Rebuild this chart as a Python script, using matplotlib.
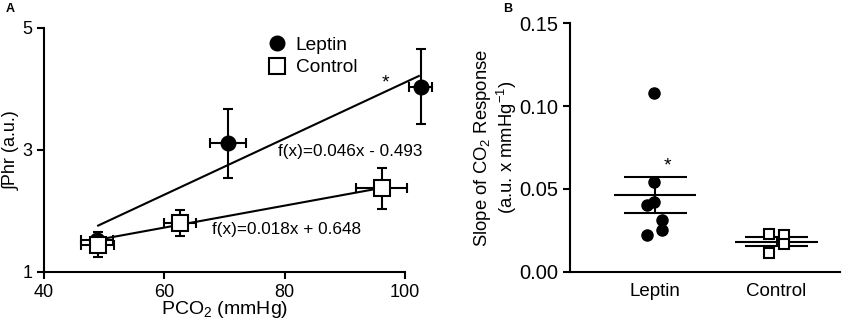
import numpy as np
import matplotlib
matplotlib.use('Agg')
import matplotlib.pyplot as plt

plt.rcParams['font.family'] = ['Liberation Sans', 'DejaVu Sans']
plt.rcParams['mathtext.fontset'] = 'custom'
plt.rcParams['mathtext.rm'] = 'Liberation Sans'
plt.rcParams['mathtext.default'] = 'regular'

# panel A: phrenic response vs PCO2 (mean +/- SEM)
lep_pco2 = [48.8, 70.6, 102.6]
lep_pco2_err = [2.7, 3.0, 1.9]
lep_phr = [1.52, 3.11, 4.04]
lep_phr_err = [0.0, 0.57, 0.62]

con_pco2 = [48.9, 62.6, 96.1]
con_pco2_err = [2.7, 2.7, 4.3]
con_phr = [1.45, 1.80, 2.37]
con_phr_err = [0.2, 0.21, 0.33]

lep_fit = (0.046, -0.493)
con_fit = (0.018, 0.648)
lep_fit_range = [49.0, 102.3]
con_fit_range = [48.9, 96.0]

# panel B: individual slopes
lep_slopes = [0.108, 0.0542, 0.0422, 0.0406, 0.0316, 0.0255, 0.0225]
con_slopes = [0.0227, 0.0221, 0.0167, 0.0117]
lep_jitter = [-0.01, -0.01, -0.01, -0.07, 0.06, 0.06, -0.07]
con_jitter = [-0.06, 0.06, 0.06, -0.06]
groups = ['Leptin', 'Control']

fig = plt.figure(figsize=(8.43, 3.24), dpi=100)
axA = fig.add_axes([0.0522, 0.1605, 0.4282, 0.7531])
axB = fig.add_axes([0.6762, 0.1605, 0.320, 0.7685])

lw = 1.5
for ax in (axA, axB):
    for s in ('top', 'right'):
        ax.spines[s].set_visible(False)
    for s in ('left', 'bottom'):
        ax.spines[s].set_linewidth(lw)
    ax.tick_params(width=lw, length=5, labelsize=13.5)

# --- panel A
for (m, b), rng in ((lep_fit, lep_fit_range), (con_fit, con_fit_range)):
    xs = np.array(rng)
    axA.plot(xs, m * xs + b, color='black', lw=1.5, zorder=2, clip_on=False)

eb = dict(ecolor='black', elinewidth=1.5, capsize=3.5, capthick=1.5, ls='none', clip_on=False)
axA.errorbar(lep_pco2, lep_phr, xerr=lep_pco2_err, yerr=lep_phr_err, zorder=3, **eb)
axA.errorbar(con_pco2, con_phr, xerr=con_pco2_err, yerr=con_phr_err, zorder=4, **eb)
axA.plot(lep_pco2, lep_phr, 'o', ms=10.5, color='black', ls='none', zorder=5,
         clip_on=False, label='Leptin')
axA.plot(con_pco2, con_phr, 's', ms=11, mfc='white', mec='black', mew=1.5, ls='none',
         zorder=6, clip_on=False, label='Control')

axA.set_xlim(40, 100)
axA.set_ylim(1, 5)
axA.set_xticks([40, 60, 80, 100])
axA.set_yticks([1, 3, 5])
axA.set_xlabel(r'PCO$_2$ (mmHg)', fontsize=14, labelpad=-1)
axA.set_ylabel('∫Phr (a.u.)', fontsize=13, labelpad=2)
axA.tick_params(labelsize=13)
axA.text(96.7, 4.1, '*', fontsize=14, ha='center', va='center')
axA.text(78.9, 2.97, 'f(x)=0.046x - 0.493', fontsize=12.3, va='center')
axA.text(67.9, 1.70, 'f(x)=0.018x + 0.648', fontsize=12.3, va='center')
axA.legend(loc='upper left', bbox_to_anchor=(0.565, 1.035), frameon=False,
           fontsize=13.8, handletextpad=0.4, labelspacing=0.25, handlelength=1.2)

# --- panel B
for i, (vals, jit) in enumerate(((lep_slopes, lep_jitter), (con_slopes, con_jitter))):
    vals = np.array(vals)
    mean = vals.mean()
    sem = vals.std(ddof=1) / np.sqrt(len(vals))
    axB.hlines(mean, i - 0.34, i + 0.34, color='black', lw=1.5, zorder=2)
    axB.hlines([mean - sem, mean + sem], i - 0.26, i + 0.26, color='black', lw=1.5, zorder=2)
    axB.vlines(i, mean - sem, mean + sem, color='black', lw=1.5, zorder=2)
    xs = i + np.array(jit)
    if i == 0:
        axB.plot(xs, vals, 'o', ms=8, color='black', ls='none', zorder=3)
    else:
        axB.plot(xs, vals, 's', ms=7.5, mfc='white', mec='black', mew=1.5, ls='none', zorder=3)

axB.text(0.1, 0.064, '*', fontsize=14, ha='center', va='center')
axB.set_xlim(-0.7, 1.52)
axB.set_ylim(0, 0.15)
axB.set_yticks([0, 0.05, 0.10, 0.15])
axB.set_yticklabels(['0.00', '0.05', '0.10', '0.15'])
axB.set_xticks([0, 1])
axB.set_xticklabels(groups)
axB.tick_params(axis='x', length=0, pad=8, labelsize=13.5)
axB.tick_params(axis='y', labelsize=14.5)
axB.set_ylabel('Slope of CO$_2$ Response\n(a.u. x mmHg$^{-1}$)', fontsize=13.3,
               labelpad=0, linespacing=1.1)

fig.text(0.012, 0.972, 'A', fontsize=9, fontweight='bold', va='center', ha='center')
fig.text(0.602, 0.972, 'B', fontsize=9, fontweight='bold', va='center', ha='center')

fig.savefig('out.png', dpi=100)
